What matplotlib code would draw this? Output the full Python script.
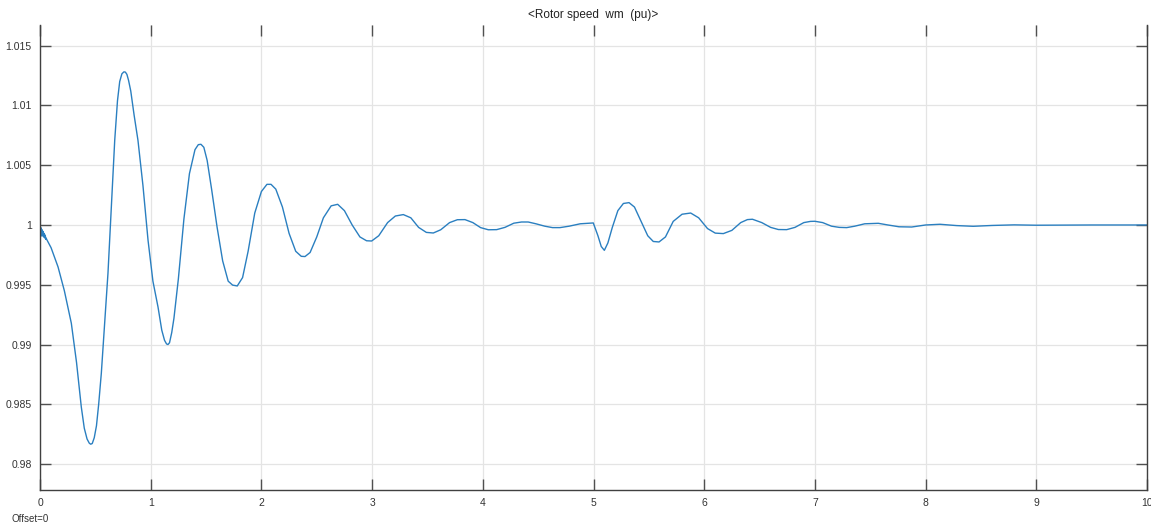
import matplotlib
matplotlib.use("Agg")
import matplotlib.pyplot as plt

plt.rcParams['font.family'] = ['Liberation Sans', 'DejaVu Sans']

# initial high-frequency ripple (first ~0.06 s)
t_start = [0.000, 0.003, 0.006, 0.009, 0.012, 0.015, 0.018, 0.021, 0.024, 0.027,
           0.030, 0.033, 0.036, 0.039, 0.042, 0.045, 0.048, 0.052, 0.056, 0.060]
w_start = [0.9999, 0.9990, 0.9998, 0.9991, 0.9997, 0.9991, 0.9996, 0.9991, 0.9995, 0.9991,
           0.9994, 0.9990, 0.9993, 0.9990, 0.9992, 0.9989, 0.9991, 0.9988, 0.9989, 0.9988]

# rotor speed
t_main = [0.10, 0.163, 0.22, 0.283, 0.33, 0.373, 0.40, 0.425, 0.445, 0.458,
          0.472, 0.49, 0.51, 0.53, 0.554, 0.584, 0.614, 0.645, 0.675, 0.70,
          0.72, 0.74, 0.758, 0.771, 0.785, 0.80, 0.82, 0.85, 0.885, 0.93,
          0.976, 1.02, 1.066, 1.10, 1.125, 1.143, 1.156, 1.17, 1.19, 1.21,
          1.25, 1.30, 1.35, 1.40, 1.43, 1.454, 1.48, 1.51, 1.55, 1.60,
          1.65, 1.70, 1.74, 1.782, 1.83, 1.88, 1.94, 2.00, 2.05, 2.087,
          2.13, 2.19, 2.25, 2.31, 2.36, 2.394, 2.44, 2.50, 2.56, 2.63,
          2.689, 2.75, 2.82, 2.89, 2.95, 2.996, 3.06, 3.14, 3.21, 3.282,
          3.35, 3.42, 3.49, 3.553, 3.62, 3.70, 3.77, 3.839, 3.91, 3.98,
          4.05, 4.125, 4.20, 4.28, 4.35, 4.41, 4.48, 4.56, 4.63, 4.697,
          4.78, 4.88, 4.998, 5.04, 5.07, 5.098, 5.13, 5.17, 5.22, 5.27,
          5.321, 5.37, 5.43, 5.49, 5.54, 5.592, 5.65, 5.72, 5.80, 5.878,
          5.95, 6.03, 6.10, 6.173, 6.25, 6.33, 6.39, 6.436, 6.52, 6.60,
          6.67, 6.745, 6.82, 6.90, 6.96, 7.00, 7.07, 7.15, 7.22, 7.287,
          7.36, 7.45, 7.573, 7.66, 7.76, 7.874, 8.00, 8.13, 8.28, 8.43,
          8.60, 8.80, 9.00, 9.50, 10.0]
w_main = [0.9981, 0.99649, 0.9945, 0.99178, 0.9885, 0.98478, 0.9830, 0.9821, 0.98175, 0.98166,
          0.98172, 0.9822, 0.9832, 0.9850, 0.9876, 0.9918, 0.99596, 1.0016, 1.00708, 1.0104,
          1.0120, 1.01265, 1.01281, 1.01279, 1.0126, 1.0121, 1.0112, 1.0092, 1.00708, 1.0033,
          0.99872, 0.9953, 0.99314, 0.9912, 0.99035, 0.99005, 0.9900, 0.99015, 0.9910, 0.9922,
          0.9955, 1.0005, 1.0043, 1.0063, 1.00672, 1.00675, 1.0065, 1.0054, 1.0030, 0.9998,
          0.9970, 0.9953, 0.99497, 0.9949, 0.9956, 0.9978, 1.0010, 1.0028, 1.0034, 1.0034,
          1.0030, 1.0015, 0.9993, 0.9978, 0.99738, 0.99736, 0.9977, 0.9990, 1.0006, 1.0016,
          1.00173, 1.0012, 1.0000, 0.9990, 0.99868, 0.99866, 0.9991, 1.0002, 1.00075, 1.00087,
          1.0006, 0.9998, 0.99938, 0.99933, 0.9996, 1.0002, 1.00044, 1.00045, 1.0002, 0.99978,
          0.9996, 0.99961, 0.9998, 1.00015, 1.00025, 1.00025, 1.0001, 0.9999, 0.99978, 0.99978,
          0.9999, 1.0001, 1.00017, 0.9991, 0.9982, 0.99788, 0.9985, 0.9998, 1.0012, 1.0018,
          1.00187, 1.0015, 1.0003, 0.9991, 0.99862, 0.99858, 0.9990, 1.0003, 1.0009, 1.0010,
          1.0006, 0.9997, 0.99932, 0.99928, 0.99955, 1.0002, 1.00045, 1.00048, 1.0002, 0.9998,
          0.99962, 0.99961, 0.9998, 1.0002, 1.0003, 1.00031, 1.0002, 0.9999, 0.9998, 0.99978,
          0.9999, 1.0001, 1.00014, 1.0000, 0.99985, 0.99983, 1.0000, 1.00006, 0.99995, 0.99989,
          0.99996, 1.00001, 0.99998, 1.0, 1.0]

x_ticks = [0, 1, 2, 3, 4, 5, 6, 7, 8, 9, 10]
y_ticks = [0.98, 0.985, 0.99, 0.995, 1.0, 1.005, 1.01, 1.015]
y_labels = ['0.98', '0.985', '0.99', '0.995', '1', '1.005', '1.01', '1.015']

fig = plt.figure(figsize=(11.51, 5.23), dpi=100)
ax = fig.add_axes([40 / 1151, 1 - 490 / 523, 1107 / 1151, 465 / 523])

ax.plot(t_start + t_main, w_start + w_main, color='#2a7fc0', lw=1.0,
        solid_joinstyle='round')

ax.set_xlim(0, 10)
ax.set_ylim(0.97783, 1.01673)
ax.set_xticks(x_ticks)
ax.set_xticklabels([str(v) for v in x_ticks])
ax.set_yticks(y_ticks)
ax.set_yticklabels(y_labels)

ax.grid(True, color='#e4e4e4', lw=0.9)
ax.set_axisbelow(True)
ax.spines['top'].set_visible(False)
for s in ['left', 'bottom', 'right']:
    ax.spines[s].set_color('#404040')
    ax.spines[s].set_linewidth(1.0)
ax.tick_params(direction='in', length=8, width=1.0, color='#505050',
               top=True, right=True, labelsize=7.5, pad=6, labelcolor='#333333')

ax.set_title('<Rotor speed  wm  (pu)>', fontsize=8.5, pad=5, color='#222222')
fig.text(11 / 1151, 1 - 519 / 523, 'Offset=0', fontsize=7, color='#333333', va='center')

fig.savefig('out.png', dpi=100)
